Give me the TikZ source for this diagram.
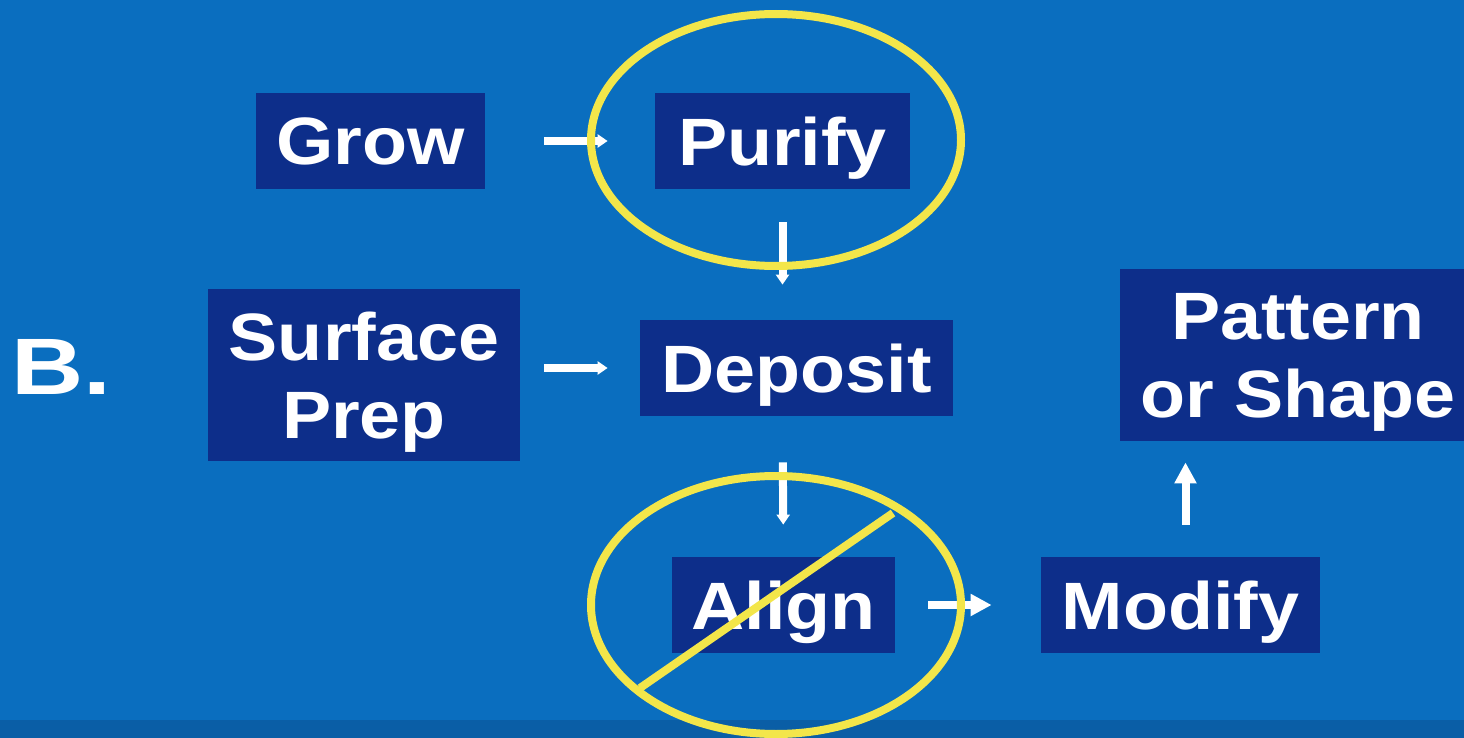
\documentclass[tikz,border=0pt]{standalone}
\usepackage{fontspec}
\setmainfont{Liberation Sans}
\newfontfamily\boxfont{Liberation Sans}[FakeStretch=1.10]
\newfontfamily\bigfont{Liberation Sans}[FakeStretch=1.25]
\usetikzlibrary{arrows.meta}
\definecolor{bgblue}{RGB}{10,110,191}
\definecolor{stripblue}{RGB}{10,94,166}
\definecolor{boxblue}{RGB}{13,46,138}
\definecolor{ringyellow}{RGB}{243,230,74}
\tikzset{
  stepbox/.style={fill=boxblue, text=white, inner sep=0pt, text depth=-4pt,
    font=\boxfont\fontsize{33.5}{39}\selectfont\bfseries, align=center},
  smallarr/.style={draw=white, line width=4pt, -{Triangle[length=5pt,width=6.5pt]}},
  bigarr/.style={draw=white, line width=4pt, -{Triangle[length=10.5pt,width=10.5pt]}},
  ring/.style={draw=ringyellow, line width=4pt},
}
\begin{document}
\begin{tikzpicture}[x=0.5pt,y=-0.5pt]
\useasboundingbox (0,0) rectangle (1464,738);
\clip (0,0) rectangle (1464,738);
\fill[bgblue] (0,0) rectangle (1464,738);
\fill[stripblue] (0,720) rectangle (1464,738);

\node[stepbox, minimum width=114.5pt, minimum height=48pt] (grow) at (370.5,141) {Grow};
\node[stepbox, minimum width=127.5pt, minimum height=48pt] (purify) at (782.5,141) {Purify};
\node[stepbox, minimum width=156pt, minimum height=86pt] (surface) at (364,375) {Surface\\Prep};
\node[stepbox, minimum width=156.5pt, minimum height=48pt] (deposit) at (796.5,368) {Deposit};
\node[stepbox, minimum width=111.5pt, minimum height=48pt] (align) at (783.5,605) {Align};
\node[stepbox, minimum width=139.5pt, minimum height=48pt] (modify) at (1180.5,605) {Modify};
\node[stepbox, minimum width=178pt, minimum height=86pt] (pattern) at (1298,355) {Pattern\\or Shape};
\node[text=white, inner sep=0pt, text depth=0pt, font=\bigfont\fontsize{40}{44}\selectfont\bfseries] (blabel) at (61,367) {B.};

\draw[smallarr, shorten <=29.5pt, shorten >=23.5pt] (grow.east) -- (purify.west);
\draw[smallarr, shorten <=12pt, shorten >=16pt] (surface.east |- deposit.west) -- (deposit.west);
\draw[smallarr, shorten <=16.5pt, shorten >=17.5pt] (purify.south) -- (purify.south |- deposit.north);
\draw[smallarr, shorten <=23pt, shorten >=16pt] (purify.south |- deposit.south) -- (align.north);
\draw[bigarr, shorten <=16.5pt, shorten >=24.5pt] (align.east) -- (modify.west);
\draw[bigarr, shorten <=16pt, shorten >=10.5pt] ([xshift=2.5pt]modify.north) -- ([xshift=2.5pt]modify.north |- pattern.south);

\draw[ring] (776,140) ellipse [x radius=92.5pt, y radius=63pt];
\draw[ring] (776,605) ellipse [x radius=92.5pt, y radius=64.5pt];
\coordinate (slashA) at (640,688);
\coordinate (slashB) at (893,513);
\draw[ring] (slashA) -- (slashB);
\end{tikzpicture}
\end{document}
